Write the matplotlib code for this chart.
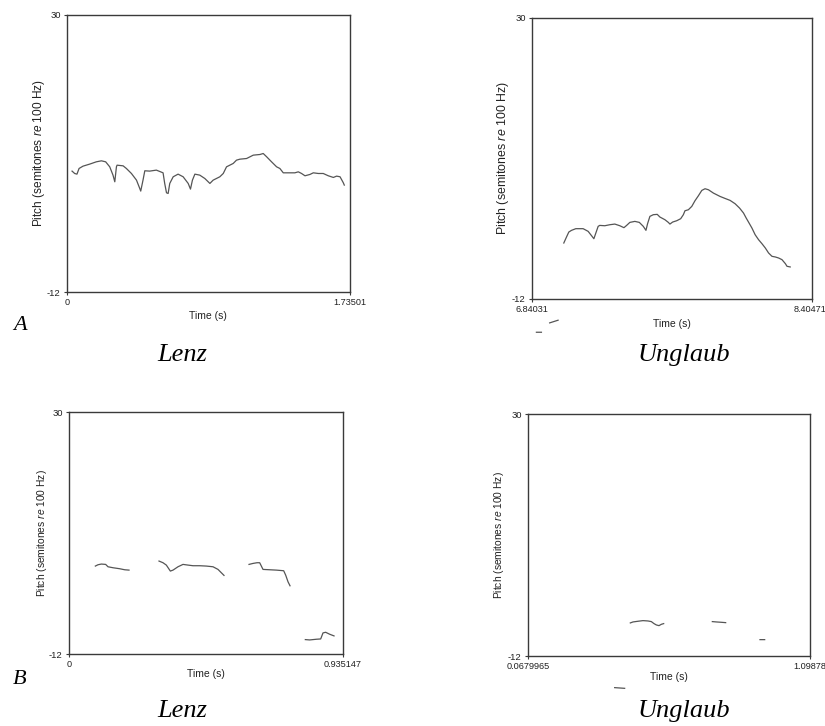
import numpy as np
import matplotlib
matplotlib.use("Agg")
import matplotlib.pyplot as plt
import matplotlib.transforms as mtransforms
from matplotlib import font_manager

nan = np.nan

# A, Lenz: continuous pitch track (semitones re 100 Hz)
lenz_a_t = [0.031, 0.047, 0.061, 0.074, 0.098, 0.139, 0.180, 0.211, 0.237, 0.262,
            0.282, 0.293, 0.303, 0.307, 0.344, 0.364, 0.395, 0.426, 0.446, 0.452,
            0.466, 0.477, 0.507, 0.548, 0.589, 0.599, 0.610, 0.620, 0.630, 0.651,
            0.681, 0.712, 0.743, 0.757, 0.769, 0.784, 0.814, 0.845, 0.876, 0.896,
            0.937, 0.958, 0.978, 1.019, 1.039, 1.060, 1.101, 1.142, 1.183, 1.203,
            1.224, 1.254, 1.285, 1.305, 1.326, 1.367, 1.397, 1.418, 1.438, 1.459,
            1.489, 1.510, 1.541, 1.571, 1.602, 1.633, 1.653, 1.674, 1.694, 1.700]
lenz_a_pitch = [6.33, 5.97, 5.87, 6.73, 7.08, 7.39, 7.74, 7.89, 7.74, 6.98,
                5.72, 4.71, 6.98, 7.23, 7.13, 6.73, 5.97, 4.96, 3.70, 3.30,
                4.96, 6.38, 6.33, 6.48, 6.07, 4.46, 3.04, 2.94, 4.46, 5.47,
                5.87, 5.47, 4.46, 3.60, 4.96, 5.87, 5.72, 5.21, 4.46, 4.96,
                5.47, 5.97, 6.98, 7.49, 7.99, 8.14, 8.24, 8.75, 8.85, 9.00,
                8.50, 7.74, 6.98, 6.73, 6.07, 6.07, 6.07, 6.22, 5.97, 5.62,
                5.82, 6.07, 5.97, 5.97, 5.62, 5.37, 5.57, 5.47, 4.56, 4.21]

# A, Unglaub
ungl_a_t = [7.018, 7.033, 7.046, 7.061, 7.085, 7.126, 7.154, 7.173, 7.186, 7.197,
            7.210, 7.219, 7.247, 7.275, 7.303, 7.331, 7.354, 7.369, 7.387, 7.415,
            7.440, 7.462, 7.477, 7.486, 7.499, 7.518, 7.540, 7.555, 7.583, 7.602,
            7.611, 7.626, 7.649, 7.671, 7.686, 7.695, 7.714, 7.733, 7.751, 7.770,
            7.789, 7.807, 7.826, 7.854, 7.891, 7.919, 7.947, 7.975, 8.000, 8.022,
            8.037, 8.050, 8.069, 8.087, 8.106, 8.125, 8.144, 8.162, 8.181, 8.200,
            8.218, 8.237, 8.256, 8.265, 8.283]
ungl_a_pitch = [-3.63, -2.74, -1.99, -1.74, -1.49, -1.49, -1.89, -2.54, -2.99, -2.14,
                -1.14, -1.00, -1.05, -0.90, -0.80, -1.05, -1.34, -1.00, -0.55, -0.40,
                -0.55, -1.14, -1.74, -0.75, 0.35, 0.60, 0.65, 0.25, -0.15, -0.55,
                -0.80, -0.50, -0.30, 0.00, 0.60, 1.19, 1.34, 1.84, 2.69, 3.43,
                4.23, 4.48, 4.33, 3.83, 3.33, 3.03, 2.74, 2.24, 1.59, 0.85,
                0.10, -0.50, -1.39, -2.39, -3.13, -3.73, -4.38, -5.12, -5.62, -5.72,
                -5.87, -6.12, -6.72, -7.11, -7.21]
# stray bits of the track that fall below the axis
ungl_a_stray_t = [6.939, 6.986, nan, 6.865, 6.893]
ungl_a_stray_pitch = [-15.57, -15.17, nan, -16.97, -16.97]

# B, Lenz: broken track (nan = unvoiced gap)
lenz_b_t = [0.0899, 0.0990, 0.1104, 0.1251, 0.1331, 0.1502, 0.1729, 0.1900, 0.2048, nan,
            0.3072, 0.3208, 0.3322, 0.3459, 0.3550, 0.3720, 0.3891, 0.4062, 0.4232, 0.4460,
            0.4687, 0.4915, 0.5086, 0.5199, 0.5290, nan,
            0.6144, 0.6280, 0.6417, 0.6508, 0.6565, 0.6621, 0.6849, 0.7076, 0.7327, 0.7395,
            0.7475, 0.7543, nan,
            0.8066, 0.8214, 0.8442, 0.8590, 0.8669, 0.8760, 0.8897, 0.9045]
lenz_b_pitch = [3.26, 3.49, 3.61, 3.55, 3.14, 2.97, 2.80, 2.62, 2.56, nan,
                4.13, 3.84, 3.43, 2.39, 2.56, 3.14, 3.55, 3.43, 3.32, 3.32,
                3.26, 3.14, 2.68, 2.10, 1.64, nan,
                3.55, 3.72, 3.84, 3.84, 3.26, 2.68, 2.62, 2.56, 2.45, 1.69,
                0.53, -0.16, nan,
                -9.50, -9.56, -9.44, -9.39, -8.34, -8.23, -8.57, -8.86]

# B, Unglaub
ungl_b_t = [0.4420, 0.4518, 0.4701, 0.4883, 0.5066, 0.5188, 0.5286, 0.5371, 0.5468, 0.5554,
            0.5639, nan, 0.7418, 0.7564, 0.7747, 0.7905, nan, 0.9160, 0.9331]
ungl_b_pitch = [-6.26, -6.09, -5.97, -5.86, -5.92, -6.03, -6.38, -6.61, -6.73, -6.50,
                -6.38, nan, -6.03, -6.09, -6.15, -6.21, nan, -9.16, -9.16]
ungl_b_stray_t = [0.3848, 0.4031, 0.4213]
ungl_b_stray_pitch = [-17.49, -17.55, -17.61]

x_ranges = [(0, 1.73501), (6.84031, 8.40471), (0, 0.935147), (0.0679965, 1.09878)]
x_labels = [("0", "1.73501"), ("6.84031", "8.40471"), ("0", "0.935147"), ("0.0679965", "1.09878")]
y_range = (-12, 30)

names = {f.name for f in font_manager.fontManager.ttflist}
narrow = "Liberation Sans Narrow" if "Liberation Sans Narrow" in names else "Liberation Sans"

plt.rcParams["font.family"] = "Liberation Sans"
plt.rcParams["mathtext.fontset"] = "custom"
plt.rcParams["mathtext.rm"] = "Liberation Sans"
plt.rcParams["mathtext.it"] = "Liberation Sans:italic"

W, H = 825, 726
fig = plt.figure(figsize=(W / 100, H / 100), dpi=100)


def px(x0, y0, x1, y1):
    return [x0 / W, 1 - y1 / H, (x1 - x0) / W, (y1 - y0) / H]


boxes = [px(67, 15, 350, 292), px(532, 18, 812, 299),
         px(69, 412, 343, 654), px(528, 414, 810, 656)]
tracks = [(lenz_a_t, lenz_a_pitch), (ungl_a_t, ungl_a_pitch),
          (lenz_b_t, lenz_b_pitch), (ungl_b_t, ungl_b_pitch)]
ylab_pos = [(39, 153, 8.6), (503, 158, 8.9), (42, 533, 7.4), (499, 535, 7.4)]
xlab_pos = [(208, 316), (672, 324), (206, 674), (669, 677)]
frame = "#3a3a3a"
line_c = "#555555"

axes = []
for i in range(4):
    ax = fig.add_axes(boxes[i])
    t, p = tracks[i]
    ax.plot(t, p, color=line_c, lw=0.9)
    ax.set_xlim(*x_ranges[i])
    ax.set_ylim(*y_range)
    ax.set_xticks(x_ranges[i])
    ax.set_xticklabels(x_labels[i], fontfamily=narrow, fontsize=6.6)
    ax.set_yticks(y_range)
    ax.set_yticklabels(["-12", "30"], fontfamily=narrow, fontsize=6.8)
    ax.tick_params(length=2.5, width=0.8, color=frame, pad=2, labelcolor="#222222")
    for s in ax.spines.values():
        s.set_color(frame)
        s.set_linewidth(1.0)
    lx, ly, fs = ylab_pos[i]
    fig.text(lx / W, 1 - ly / H, r"Pitch (semitones $\mathit{re}$ 100 Hz)", rotation=90,
             ha="center", va="center", fontsize=fs, color="#222222")
    tx, ty = xlab_pos[i]
    fig.text(tx / W, 1 - ty / H, "Time (s)", ha="center", va="center",
             fontsize=7.5, fontfamily=narrow, color="#222222")
    axes.append(ax)

# nudge the top-right end label left a little so it stays inside the figure
lab = axes[1].get_xticklabels()[1]
lab.set_transform(lab.get_transform() + mtransforms.ScaledTranslation(-0.02, 0, fig.dpi_scale_trans))

axes[1].plot(ungl_a_stray_t, ungl_a_stray_pitch, color=line_c, lw=0.9, clip_on=False)
axes[3].plot(ungl_b_stray_t, ungl_b_stray_pitch, color=line_c, lw=0.9, clip_on=False)

serif = dict(family="Liberation Serif", style="italic", color="black")
fig.text(20 / W, 1 - 326 / H, "A", ha="center", va="center", fontsize=16, **serif)
fig.text(20 / W, 1 - 680 / H, "B", ha="center", va="center", fontsize=16, **serif)
for (cx, cy, s) in [(182, 355, "Lenz"), (684, 355, "Unglaub"),
                    (182, 711, "Lenz"), (684, 711, "Unglaub")]:
    fig.text(cx / W, 1 - cy / H, s, ha="center", va="center", fontsize=19, **serif)

fig.savefig("out.png", dpi=100)
